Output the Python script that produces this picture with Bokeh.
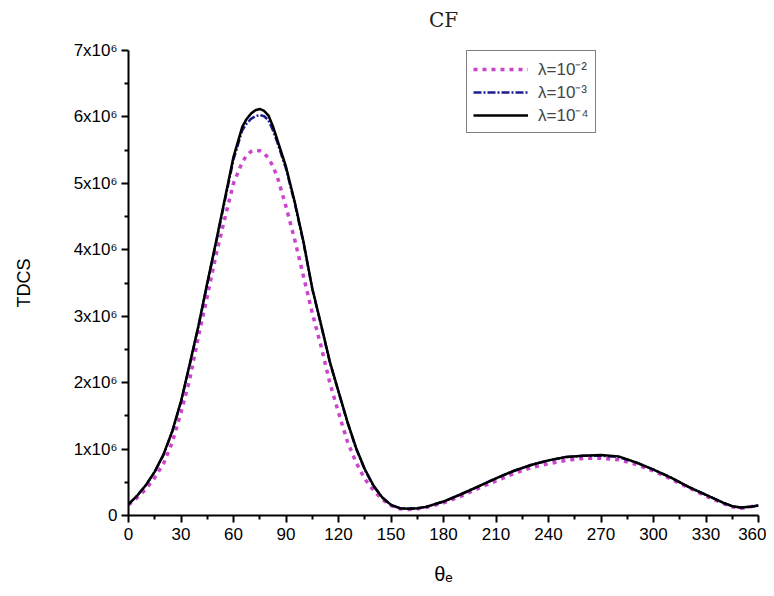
from bokeh.plotting import figure
from bokeh.models import Range1d, FixedTicker, Legend, LegendItem, Title
from bokeh.embed import file_html
from bokeh.resources import INLINE

theta = [0, 5, 10, 15, 20, 25, 30, 35, 40, 45, 50, 55, 60,
         65, 67.5, 70, 72.5, 75, 77.5, 80, 82.5, 85,
         90, 95, 100, 105, 110, 115, 120, 125, 130, 135, 140, 145, 150, 155, 160, 165, 170,
         180, 190, 200, 210, 220, 230, 240, 250, 260, 270, 280, 290, 300, 310, 320, 330, 340,
         345, 350, 355, 360]

lam_1e4 = [0.17, 0.30, 0.46, 0.66, 0.92, 1.27, 1.72, 2.28, 2.86, 3.50, 4.12, 4.76, 5.40,
           5.85, 5.97, 6.05, 6.10, 6.12, 6.09, 6.02, 5.86, 5.66,
           5.25, 4.72, 4.12, 3.42, 2.88, 2.32, 1.87, 1.42, 1.02, 0.70, 0.45, 0.27, 0.16, 0.11, 0.10, 0.11, 0.13,
           0.21, 0.32, 0.44, 0.56, 0.67, 0.76, 0.83, 0.88, 0.90, 0.91, 0.89, 0.80, 0.69, 0.57, 0.43, 0.31, 0.19,
           0.14, 0.12, 0.13, 0.15]

lam_1e3 = [0.17, 0.30, 0.46, 0.66, 0.91, 1.26, 1.71, 2.27, 2.85, 3.48, 4.10, 4.73, 5.36,
           5.80, 5.90, 5.97, 6.01, 6.03, 6.01, 5.95, 5.80, 5.62,
           5.22, 4.70, 4.10, 3.41, 2.87, 2.31, 1.86, 1.41, 1.01, 0.69, 0.44, 0.27, 0.16, 0.11, 0.10, 0.11, 0.13,
           0.21, 0.32, 0.44, 0.56, 0.67, 0.76, 0.83, 0.88, 0.90, 0.90, 0.88, 0.80, 0.69, 0.57, 0.43, 0.31, 0.19,
           0.14, 0.12, 0.13, 0.15]

lam_1e2 = [0.16, 0.27, 0.40, 0.57, 0.78, 1.10, 1.55, 2.05, 2.70, 3.30, 3.92, 4.47, 5.00,
           5.32, 5.42, 5.48, 5.50, 5.49, 5.45, 5.38, 5.26, 5.10,
           4.65, 4.15, 3.60, 3.05, 2.55, 2.00, 1.55, 1.12, 0.80, 0.55, 0.38, 0.24, 0.15, 0.10, 0.09, 0.10, 0.12,
           0.19, 0.29, 0.41, 0.52, 0.63, 0.72, 0.78, 0.83, 0.86, 0.86, 0.84, 0.77, 0.67, 0.55, 0.42, 0.29, 0.18,
           0.13, 0.11, 0.13, 0.15]

x_ticks = list(range(0, 361, 30))
x_minor = list(range(15, 360, 30))
y_ticks = [0, 1000000, 2000000, 3000000, 4000000, 5000000, 6000000, 7000000]
y_minor = [500000, 1500000, 2500000, 3500000, 4500000, 5500000, 6500000]
y_tick_labels = ["0", "1x10\u2076", "2x10\u2076", "3x10\u2076", "4x10\u2076",
                 "5x10\u2076", "6x10\u2076", "7x10\u2076"]
legend_labels = ["\u03bb=10\u207b\u00b2", "\u03bb=10\u207b\u00b3", "\u03bb=10\u207b\u2074"]
title_text = "CF"

scale = 1e6

p = figure(width=766, height=588, output_backend="svg", toolbar_location=None, title=None,
           x_range=Range1d(0, 360), y_range=Range1d(0, 7e6),
           min_border_left=128, min_border_right=8, min_border_top=48, min_border_bottom=73)

spacer = Title(text=" ", text_font_size="11px", standoff=0)
p.add_layout(spacer, "above")
title = Title(text=title_text, align="center", text_font="DejaVu Serif",
              text_font_style="normal", text_font_size="20px", text_color="#222222")
p.add_layout(title, "above")

p.grid.visible = False
p.outline_line_color = None

for ax in (p.xaxis[0], p.yaxis[0]):
    ax.axis_line_width = 2
    ax.axis_line_color = "black"
    ax.major_tick_line_width = 2
    ax.minor_tick_line_width = 2
    ax.major_tick_in = 0
    ax.major_tick_out = 7
    ax.minor_tick_in = 0
    ax.minor_tick_out = 4
    ax.major_label_text_font = "Liberation Sans"
    ax.major_label_text_font_size = "17px"
    ax.major_label_text_color = "black"
    ax.axis_label_text_font = "Liberation Sans"
    ax.axis_label_text_font_style = "normal"
    ax.axis_label_text_color = "black"

p.xaxis.ticker = FixedTicker(ticks=x_ticks, minor_ticks=x_minor)
p.yaxis.ticker = FixedTicker(ticks=y_ticks, minor_ticks=y_minor)
p.yaxis.major_label_overrides = {t: l for t, l in zip(y_ticks, y_tick_labels)}
p.xaxis.axis_label = "\u03b8\u2091"
p.xaxis.axis_label_text_font_size = "20px"
p.xaxis.axis_label_standoff = 20
p.yaxis.axis_label = "TDCS"
p.yaxis.axis_label_text_font_size = "18px"
p.yaxis.axis_label_standoff = 37
p.xaxis.major_label_standoff = 5
p.yaxis.major_label_standoff = 4

y1 = [v * scale for v in lam_1e2]
y2 = [v * scale for v in lam_1e3]
y3 = [v * scale for v in lam_1e4]

r1 = p.line(theta, y1, line_color="#cc44cc", line_width=3.5, line_dash="4 5")
r2 = p.line(theta, y2, line_color="#1c1c90", line_width=2.5, line_dash="8 2 2 2")
r3 = p.line(theta, y3, line_color="black", line_width=2.5)

legend = Legend(items=[LegendItem(label=legend_labels[0], renderers=[r1]),
                       LegendItem(label=legend_labels[1], renderers=[r2]),
                       LegendItem(label=legend_labels[2], renderers=[r3])],
                location=(338, 382))
legend.border_line_color = "black"
legend.border_line_width = 1
legend.background_fill_alpha = 1
legend.label_text_font = "Liberation Sans"
legend.label_text_font_size = "17px"
legend.glyph_width = 55
legend.glyph_height = 16
legend.label_height = 16
legend.label_standoff = 10
legend.spacing = 0
legend.padding = 6
legend.margin = 0
p.add_layout(legend)

open("out.html", "w").write(file_html(p, INLINE))
